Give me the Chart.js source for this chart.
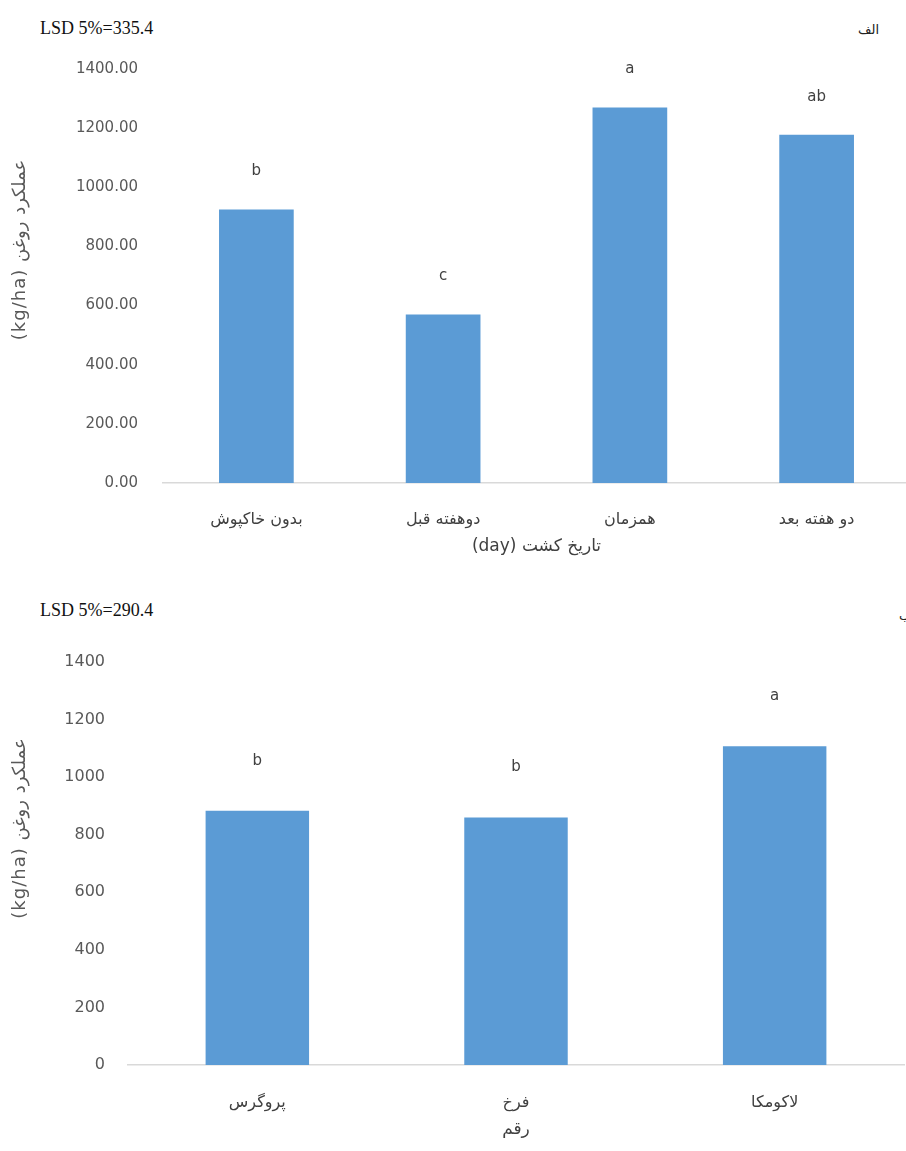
<!DOCTYPE html>
<html>
<head>
<meta charset="utf-8">
<script src="https://cdn.jsdelivr.net/npm/chart.js@4/dist/chart.umd.min.js"></script>
<style>
  body { margin: 0; background: #fff; overflow: hidden; width: 906px; height: 1151px; position: relative; }
  canvas { position: absolute; left: 0; }
  #sowingChart { top: 0; }
  #cultivarChart { top: 580px; }
  .lsd { position: absolute; left: 40px; font-family: "Liberation Serif", serif; font-size: 18px; color: #111; }
  .panel { position: absolute; font-family: "DejaVu Sans", sans-serif; font-size: 13px; color: #222; }
</style>
</head>
<body>
<div class="lsd" style="top:18px;">LSD 5%=335.4</div>
<div class="panel" style="top:22px; left:858px;">الف</div>
<div class="lsd" style="top:600px;">LSD 5%=290.4</div>
<div class="panel" style="top:608px; left:899px;">ب</div>
<canvas id="sowingChart" width="912" height="570"></canvas>
<canvas id="cultivarChart" width="906" height="571"></canvas>
<script>
// نمودار الف : تاریخ کشت
const sowingLabels = ['بدون خاکپوش', 'دوهفته قبل', 'همزمان', 'دو هفته بعد'];
const sowingValues = [925, 570, 1270, 1178];
const sowingLetters = ['b', 'c', 'a', 'ab'];

// نمودار ب : رقم
const cultivarLabels = ['پروگرس', 'فرخ', 'لاکومکا'];
const cultivarValues = [883, 860, 1107];
const cultivarLetters = ['b', 'b', 'a'];

// (kg/ha) à gauche pour que le texte tourné se lise comme dans l'original
const yTitle = '(kg/ha) عملکرد روغن';
const barColor = '#5b9bd5';
const textGray = '#595959';
const FONT = '"DejaVu Sans", sans-serif';

// lettres de comparaison au-dessus des barres
const letterPlugin = {
  id: 'letters',
  afterDatasetsDraw(chart, args, opts) {
    const ctx = chart.ctx;
    const meta = chart.getDatasetMeta(0);
    ctx.save();
    ctx.font = '15px ' + FONT;
    ctx.fillStyle = '#404040';
    ctx.textAlign = 'center';
    ctx.textBaseline = 'middle';
    meta.data.forEach((bar, i) => {
      ctx.fillText(opts.letters[i], bar.x, bar.y - opts.gap);
    });
    ctx.restore();
  }
};

// titre de l'axe Y, un peu décalé vers le haut
const yTitlePlugin = {
  id: 'yTitle',
  afterDraw(chart, args, opts) {
    const { ctx, chartArea } = chart;
    ctx.save();
    ctx.translate(opts.x, (chartArea.top + chartArea.bottom) / 2 - opts.shift);
    ctx.rotate(-Math.PI / 2);
    ctx.font = '18px ' + FONT;
    ctx.letterSpacing = '1px';
    ctx.fillStyle = textGray;
    ctx.textAlign = 'center';
    ctx.textBaseline = 'middle';
    ctx.fillText(yTitle, 0, 0);
    ctx.restore();
  }
};

function makeChart(id, labels, values, letters, cfg) {
  return new Chart(document.getElementById(id), {
    type: 'bar',
    data: {
      labels: labels,
      datasets: [{
        data: values,
        backgroundColor: barColor,
        barPercentage: 0.4,
        categoryPercentage: 1
      }]
    },
    plugins: [letterPlugin, yTitlePlugin],
    options: {
      responsive: false,
      animation: false,
      layout: { padding: { top: cfg.padTop, right: cfg.padRight, left: 0, bottom: 0 } },
      plugins: {
        legend: { display: false },
        tooltip: { enabled: false },
        letters: { letters: letters, gap: cfg.gap },
        yTitle: { x: 20, shift: cfg.yShift }
      },
      scales: {
        x: {
          grid: { display: false },
          border: { display: true, color: '#d9d9d9', width: 1.5 },
          ticks: { color: '#404040', font: { family: FONT, size: 16 }, padding: cfg.tickPad, maxRotation: 0 },
          title: {
            display: true,
            text: cfg.xTitle,
            color: '#404040',
            font: { family: FONT, size: 17 },
            padding: { top: 0, bottom: cfg.xTitlePad }
          },
          afterFit: (scale) => { scale.height = cfg.xHeight; }
        },
        y: {
          min: 0,
          max: 1400,
          grid: { display: false },
          border: { display: false },
          ticks: {
            stepSize: 200,
            color: textGray,
            font: { family: FONT, size: cfg.yTickSize },
            padding: cfg.yTickPad,
            callback: (v) => cfg.decimals ? v.toFixed(2) : String(v)
          },
          afterFit: (scale) => { scale.width = cfg.yWidth; }
        }
      }
    }
  });
}

makeChart('sowingChart', sowingLabels, sowingValues, sowingLetters, {
  padTop: 69, padRight: 2, gap: 38, tickPad: 19, xTitle: '(day) تاریخ کشت',
  xTitlePad: 13, xHeight: 87, yTickPad: 17, yTickSize: 15, yWidth: 163, yShift: 26, decimals: true
});

makeChart('cultivarChart', cultivarLabels, cultivarValues, cultivarLetters, {
  padTop: 82, padRight: 2, gap: 50, tickPad: 20, xTitle: 'رقم',
  xTitlePad: 11, xHeight: 86, yTickPad: 15, yTickSize: 16, yWidth: 128, yShift: 35, decimals: false
});
</script>
</body>
</html>
